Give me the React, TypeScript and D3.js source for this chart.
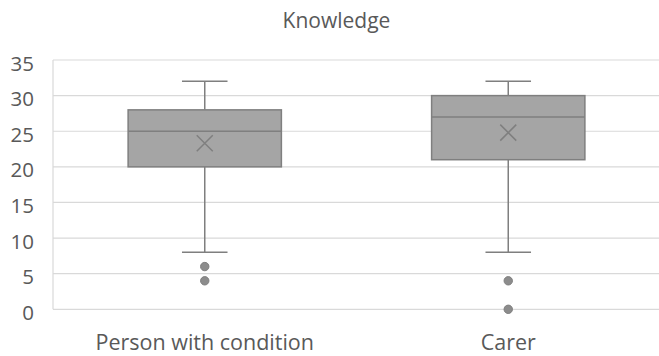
import React from "react";
import * as d3 from "d3";

const categories = ["Person with condition", "Carer"];
const q1 = [20, 21];
const medians = [25, 27];
const q3 = [28, 30];
const whiskerLow = [8, 8];
const whiskerHigh = [32, 32];
const means = [23.3, 24.8];
const outliers = [[6, 4], [4, 0]];
const yTicks = [0, 5, 10, 15, 20, 25, 30, 35];

const W = 659, H = 356;
const left = 53, right = 660, top = 60, bottom = 309.3;
const font = "'Open Sans', sans-serif";
const textColor = "#595959";

export default function App() {
  const x = d3.scaleBand<string>().domain(categories).range([left, right]).paddingInner(0).paddingOuter(0);
  const y = d3.scaleLinear().domain([0, 35]).range([bottom, top]);
  const bw = x.bandwidth();
  const boxW = bw * 0.505;
  const capW = bw * 0.075;
  const stroke = "#7f7f7f";
  return (
    <svg width={W} height={H} style={{ position: "absolute", left: 0, top: 0 }}>
      <rect width={W} height={H} fill="#fff" />
      <text x={336.5} y={28} textAnchor="middle" fontFamily={font} fontSize={21} fill={textColor}>Knowledge</text>
      {yTicks.map((t) => (
        <g key={t}>
          <line x1={left} x2={right} y1={y(t)} y2={y(t)} stroke="#d9d9d9" strokeWidth={1.2} />
          <text x={34} y={y(t) + 10.5} textAnchor="end" fontFamily={font} fontSize={20.5} fill={textColor}>{t}</text>
        </g>
      ))}
      <line x1={left} x2={left} y1={top} y2={bottom} stroke="#d9d9d9" strokeWidth={1.2} />
      {categories.map((c, i) => {
        const cx = (x(c) as number) + bw / 2;
        return (
          <g key={c}>
            <line x1={cx} x2={cx} y1={y(whiskerHigh[i])} y2={y(q3[i])} stroke={stroke} strokeWidth={1.5} />
            <line x1={cx} x2={cx} y1={y(q1[i])} y2={y(whiskerLow[i])} stroke={stroke} strokeWidth={1.5} />
            <line x1={cx - capW} x2={cx + capW} y1={y(whiskerHigh[i])} y2={y(whiskerHigh[i])} stroke={stroke} strokeWidth={1.5} />
            <line x1={cx - capW} x2={cx + capW} y1={y(whiskerLow[i])} y2={y(whiskerLow[i])} stroke={stroke} strokeWidth={1.5} />
            <rect x={cx - boxW / 2} y={y(q3[i])} width={boxW} height={y(q1[i]) - y(q3[i])} fill="#a5a5a5" stroke={stroke} strokeWidth={1.5} />
            <line x1={cx - boxW / 2} x2={cx + boxW / 2} y1={y(medians[i])} y2={y(medians[i])} stroke={stroke} strokeWidth={1.5} />
            <path d={`M${cx - 8},${y(means[i]) - 8}L${cx + 8},${y(means[i]) + 8}M${cx - 8},${y(means[i]) + 8}L${cx + 8},${y(means[i]) - 8}`} stroke={stroke} strokeWidth={1.5} />
            {outliers[i].map((o, j) => (
              <circle key={j} cx={cx} cy={y(o)} r={4.2} fill="#8c8c8c" stroke={stroke} strokeWidth={1} />
            ))}
            <text x={cx} y={350} textAnchor="middle" fontFamily={font} fontSize={21.5} fill={textColor}>{c}</text>
          </g>
        );
      })}
    </svg>
  );
}
